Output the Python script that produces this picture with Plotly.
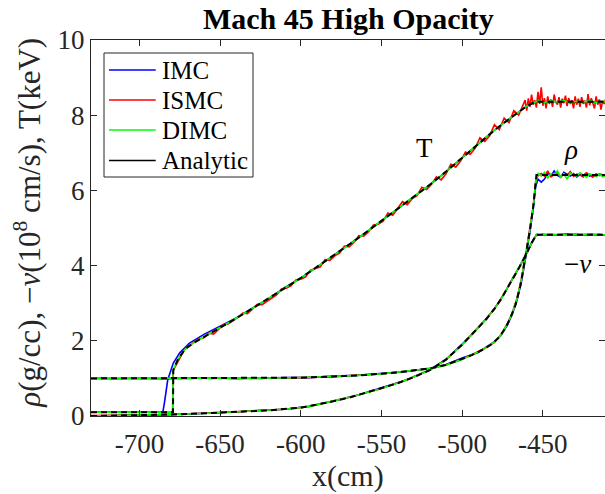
import plotly.graph_objects as go

FONT = "Liberation Serif"
AX = "#262626"

# ---------------- tick labels ----------------
x_tickvals = [-700, -650, -600, -550, -500, -450]
x_ticktext = ["-700", "-650", "-600", "-550", "-500", "-450"]
y_tickvals = [0, 2, 4, 6, 8, 10]
y_ticktext = ["0", "2", "4", "6", "8", "10"]

# ---------------- legend ----------------
legend_names = ["IMC", "ISMC", "DIMC", "Analytic"]
legend_colors = ["#0000ff", "#ff0000", "#00ff00", "#000000"]

# ---------------- Analytic ----------------
an_T_x = [-730, -679.2, -679.0, -676, -673, -670, -665, -660, -655, -650, -640, -630, -620, -610,
          -600, -590, -580, -570, -560, -550, -540, -530, -520, -510, -500, -490, -480, -470,
          -465, -460, -456, -453, -440, -420, -411]
an_T = [0.1, 0.1, 1.22, 1.52, 1.70, 1.84, 1.98, 2.10, 2.22, 2.35, 2.60, 2.86, 3.12, 3.40,
        3.67, 3.96, 4.25, 4.56, 4.87, 5.19, 5.51, 5.83, 6.15, 6.50, 6.87, 7.25, 7.60, 7.93,
        8.09, 8.24, 8.33, 8.36, 8.36, 8.36, 8.36]

an_rho_x = [-730, -700, -680, -650, -620, -600, -580, -560, -540, -530, -518, -510, -501, -494,
            -487, -482, -477, -473, -470, -467, -464, -461, -458, -456, -454.5, -454, -450, -411]
an_rho = [1.0, 1.0, 1.0, 1.005, 1.01, 1.02, 1.05, 1.09, 1.16, 1.21, 1.28, 1.36, 1.50, 1.62,
          1.77, 1.90, 2.10, 2.35, 2.62, 2.95, 3.45, 4.15, 4.95, 5.55, 6.10, 6.41, 6.41, 6.41]

an_v_x = [-730, -700, -680, -660, -640, -620, -600, -590, -580, -570, -560, -550, -540, -530,
          -520, -510, -500, -490, -485, -480, -476, -470, -465, -460, -457, -454, -450, -411]
an_v = [0.0, 0.02, 0.04, 0.07, 0.11, 0.15, 0.22, 0.30, 0.39, 0.49, 0.61, 0.73, 0.87, 1.03,
        1.22, 1.50, 1.90, 2.35, 2.58, 2.85, 3.10, 3.55, 3.92, 4.33, 4.60, 4.82, 4.82, 4.82]

# ---------------- IMC (blue) T ----------------
imc_T_x = [-730, -685.5, -684.5, -683.5, -682.5, -681, -679, -675, -669, -660, -650, -640, -630,
           -620, -610, -600, -590, -580, -570, -560, -550, -540, -530, -520, -510, -500, -490,
           -480, -470, -465, -460, -456, -453, -450, -445, -440, -435, -430, -425, -420, -415, -411]
imc_T = [0.1, 0.1, 0.35, 0.70, 0.95, 1.15, 1.41, 1.68, 1.94, 2.17, 2.38, 2.61, 2.87,
         3.12, 3.41, 3.67, 3.96, 4.26, 4.56, 4.87, 5.19, 5.51, 5.83, 6.15, 6.50, 6.87, 7.25,
         7.60, 7.93, 8.09, 8.24, 8.33, 8.38, 8.34, 8.37, 8.35, 8.38, 8.34, 8.37, 8.35, 8.37, 8.35]

# ---------------- ISMC (red) T ----------------
ismc_T_x = [-730, -679.4, -679.2,
            -678, -675, -672, -669, -666, -663, -660, -657, -654, -651, -648, -645, -642, -639,
            -636, -633, -630, -627, -624, -621, -618, -615, -612, -609, -606, -603, -600, -597,
            -594, -591, -588, -585, -582, -579, -576, -573, -570, -567, -564, -561, -558, -555,
            -552, -549, -546, -543, -540, -537, -534, -531, -528, -525, -522, -519, -516, -513,
            -510, -507, -504, -501, -498, -495, -492, -489, -486, -483, -480, -477, -474, -471,
            -468, -465, -462,
            -461, -460, -459, -458, -457, -456, -455, -454, -453, -452, -451, -450, -449, -448,
            -447, -446, -445, -444, -443, -442, -441, -440, -439, -438, -437, -436, -435, -434,
            -433, -432, -431, -430, -429, -428, -427, -426, -425, -424, -423, -422, -421, -420,
            -419, -418, -417, -416, -415, -414, -413, -412, -411]
ismc_T = [0.1, 0.1, 1.20,
          1.30, 1.55, 1.77, 1.86, 1.98, 2.05, 2.08, 2.20, 2.18, 2.30, 2.43, 2.45, 2.53, 2.62,
          2.74, 2.72, 2.84, 2.97, 2.96, 3.05, 3.14, 3.22, 3.38, 3.40, 3.47, 3.62, 3.64, 3.70,
          3.88, 3.92, 3.96, 4.16, 4.14, 4.26, 4.33, 4.52, 4.50, 4.62, 4.80, 4.78, 4.90, 5.08,
          5.10, 5.18, 5.40, 5.34, 5.52, 5.70, 5.62, 5.78, 5.86, 6.08, 6.02, 6.16, 6.36, 6.28,
          6.44, 6.70, 6.62, 6.78, 7.02, 6.96, 7.12, 7.40, 7.30, 7.45, 7.75, 7.62, 7.92, 7.80,
          8.12, 8.00, 8.30,
          8.40, 8.12, 8.45, 8.22, 8.55, 8.28, 8.40, 8.20, 8.62, 8.30, 8.74, 8.25, 8.45, 8.18,
          8.50, 8.30, 8.42, 8.22, 8.55, 8.35, 8.28, 8.48, 8.20, 8.44, 8.32, 8.52, 8.24, 8.46,
          8.30, 8.40, 8.18, 8.50, 8.28, 8.44, 8.22, 8.48, 8.30, 8.38, 8.20, 8.56, 8.26, 8.45,
          8.32, 8.18, 8.50, 8.28, 8.42, 8.15, 8.38, 8.30, 8.44]

# ---------------- DIMC (green) T ----------------
dimc_T_x = [-730, -679.4, -679.1, -676, -673, -670, -665, -660, -655, -650, -640, -630, -620,
            -610, -600, -590, -580, -570, -560, -550, -540, -530, -520, -510, -500, -490, -480,
            -470, -465, -460, -456, -453, -449, -445, -441, -437, -433, -429, -425, -421, -417,
            -413, -411]
dimc_T = [0.1, 0.1, 1.22, 1.52, 1.71, 1.85, 1.98, 2.10, 2.23, 2.35, 2.60, 2.86, 3.12,
          3.40, 3.67, 3.96, 4.25, 4.56, 4.87, 5.19, 5.51, 5.83, 6.15, 6.50, 6.87, 7.25, 7.60,
          7.93, 8.09, 8.24, 8.33, 8.38, 8.34, 8.38, 8.35, 8.39, 8.34, 8.37, 8.35, 8.38, 8.34,
          8.37, 8.35]

# ---------------- numerical rho (shared grid) ----------------
num_rho_x = [-730, -715, -700, -685, -670, -655, -640, -625, -610, -595, -580, -565, -550,
             -535, -520, -510, -500, -495, -490, -485, -480, -476, -472, -469, -466, -463,
             -460, -458, -456, -454.5, -453, -451, -449, -447, -445, -443, -441, -439, -437,
             -435, -433, -431, -429, -427, -425, -423, -421, -419, -417, -415, -413, -411]
imc_rho = [1.00, 0.99, 1.01, 0.99, 1.00, 1.01, 0.99, 1.01, 1.02, 1.02, 1.06, 1.08, 1.13,
           1.18, 1.27, 1.37, 1.54, 1.62, 1.69, 1.84, 1.98, 2.14, 2.42, 2.70, 3.08, 3.62,
           4.35, 4.90, 5.50, 6.10, 6.30, 6.22, 6.30, 6.45, 6.38, 6.52, 6.40, 6.35, 6.48,
           6.42, 6.38, 6.45, 6.36, 6.42, 6.40, 6.46, 6.38, 6.42, 6.37, 6.44, 6.40, 6.38]
ismc_rho = [1.01, 1.00, 0.99, 1.00, 1.01, 1.00, 1.01, 1.00, 1.02, 1.03, 1.04, 1.09, 1.12,
            1.19, 1.26, 1.36, 1.51, 1.61, 1.71, 1.82, 1.96, 2.16, 2.46, 2.74, 3.14, 3.70,
            4.45, 4.98, 5.58, 6.22, 6.40, 6.45, 6.38, 6.52, 6.36, 6.42, 6.48, 6.35, 6.44,
            6.40, 6.50, 6.37, 6.43, 6.41, 6.36, 6.47, 6.40, 6.35, 6.44, 6.39, 6.42, 6.37]
dimc_rho = [1.00, 1.00, 1.00, 1.00, 1.00, 1.00, 1.01, 1.01, 1.01, 1.03, 1.05, 1.08, 1.12,
            1.18, 1.26, 1.35, 1.50, 1.61, 1.70, 1.83, 1.97, 2.15, 2.45, 2.73, 3.12, 3.68,
            4.43, 4.96, 5.56, 6.20, 6.45, 6.38, 6.48, 6.33, 6.45, 6.40, 6.52, 6.36, 6.44,
            6.30, 6.46, 6.41, 6.38, 6.47, 6.42, 6.35, 6.44, 6.40, 6.38, 6.43, 6.36, 6.41]

# ---------------- numerical -v (shared grid) ----------------
num_v_x = [-730, -715, -700, -685, -670, -655, -640, -625, -610, -595, -580, -565, -550,
           -535, -520, -510, -500, -495, -490, -485, -480, -476, -472, -468, -464, -460,
           -457, -454, -450, -445, -440, -435, -430, -425, -420, -415, -411]
imc_v = [0.00, 0.01, 0.02, 0.04, 0.05, 0.08, 0.11, 0.14, 0.18, 0.26, 0.39, 0.55, 0.74,
         0.95, 1.23, 1.51, 1.91, 2.12, 2.36, 2.58, 2.86, 3.10, 3.41, 3.70, 4.01, 4.33,
         4.61, 4.81, 4.83, 4.81, 4.82, 4.84, 4.81, 4.82, 4.83, 4.81, 4.82]
ismc_v = [0.01, 0.01, 0.02, 0.03, 0.06, 0.08, 0.11, 0.15, 0.18, 0.25, 0.40, 0.55, 0.73,
          0.96, 1.22, 1.50, 1.90, 2.13, 2.35, 2.59, 2.85, 3.11, 3.40, 3.71, 4.00, 4.34,
          4.60, 4.83, 4.81, 4.83, 4.81, 4.82, 4.84, 4.81, 4.82, 4.83, 4.81]
dimc_v = [0.00, 0.01, 0.02, 0.035, 0.055, 0.08, 0.11, 0.14, 0.18, 0.25, 0.39, 0.55, 0.73,
          0.95, 1.22, 1.50, 1.90, 2.12, 2.35, 2.58, 2.85, 3.10, 3.40, 3.70, 4.00, 4.33,
          4.60, 4.82, 4.82, 4.83, 4.81, 4.82, 4.82, 4.83, 4.82, 4.81, 4.82]

# ---------------- figure ----------------
fig = go.Figure()

methods = [
    ("IMC", legend_colors[0], [(imc_T_x, imc_T), (num_rho_x, imc_rho), (num_v_x, imc_v)]),
    ("ISMC", legend_colors[1], [(ismc_T_x, ismc_T), (num_rho_x, ismc_rho), (num_v_x, ismc_v)]),
    ("DIMC", legend_colors[2], [(dimc_T_x, dimc_T), (num_rho_x, dimc_rho), (num_v_x, dimc_v)]),
]
for name, color, curves in methods:
    for xs, ys in curves:
        fig.add_trace(go.Scatter(
            x=xs, y=ys, mode="lines", name=name, showlegend=False,
            line=dict(color=color, width=1.6)))

for xs, ys in [(an_T_x, an_T), (an_rho_x, an_rho), (an_v_x, an_v)]:
    fig.add_trace(go.Scatter(
        x=xs, y=ys, mode="lines", name="Analytic", showlegend=False,
        line=dict(color="black", width=2, dash="6px,4px")))

# curve labels
labels = [("T", -523.5, 7.12), ("<i>ρ</i>", -432.5, 7.08), ("−<i>v</i>", -428.5, 4.05)]
for txt, lx, ly in labels:
    fig.add_annotation(x=lx, y=ly, text=txt, showarrow=False,
                       font=dict(family=FONT, size=27, color="black"))

# axis titles
fig.add_annotation(xref="paper", yref="paper", x=-0.1226, y=0.514,
                   text="<i>ρ</i>(g/cc), −<i>v</i>(10<sup>8</sup> cm/s), T(keV)",
                   textangle=-90, showarrow=False, xanchor="center", yanchor="middle",
                   font=dict(family=FONT, size=31, color=AX))
fig.add_annotation(xref="paper", yref="paper", x=0.5, y=-0.16,
                   text="x(cm)", showarrow=False, xanchor="center", yanchor="middle",
                   font=dict(family=FONT, size=30, color=AX))

# legend box (drawn in paper coordinates)
LX0, LX1, LY0, LY1 = 0.0253, 0.3152, 0.6356, 0.9654
fig.add_shape(type="rect", xref="paper", yref="paper", x0=LX0, x1=LX1, y0=LY0, y1=LY1,
              line=dict(color=AX, width=1), fillcolor="white", layer="above")
row_y = [0.9202, 0.8404, 0.7606, 0.6795]
for name, color, ry in zip(legend_names, legend_colors, row_y):
    fig.add_shape(type="line", xref="paper", yref="paper", x0=0.035, x1=0.1259, y0=ry, y1=ry,
                  line=dict(color=color, width=1.6), layer="above")
    fig.add_annotation(xref="paper", yref="paper", x=0.1342, y=ry, text=name,
                       showarrow=False, xanchor="left", yanchor="middle",
                       font=dict(family=FONT, size=25, color="black"))

fig.update_layout(
    width=605, height=494,
    margin=dict(l=91, r=0, t=40, b=78),
    paper_bgcolor="white", plot_bgcolor="white",
    font=dict(family=FONT, size=27, color=AX),
    title=dict(text="<b>Mach 45 High Opacity</b>", x=0.5759, xanchor="center",
               y=0.962, yanchor="middle", font=dict(family=FONT, size=30, color="black")),
    showlegend=False,
    xaxis=dict(range=[-730, -411.5], tickvals=x_tickvals, ticktext=x_ticktext,
               ticks="inside", ticklen=6, tickcolor=AX, showline=True, linecolor=AX,
               linewidth=1, mirror="ticks", showgrid=False, zeroline=False,
               ticklabelstandoff=4,
               tickfont=dict(family=FONT, size=27, color=AX)),
    yaxis=dict(range=[0, 10], tickvals=y_tickvals, ticktext=y_ticktext,
               ticks="inside", ticklen=6, tickcolor=AX, showline=True, linecolor=AX,
               linewidth=1, mirror="ticks", showgrid=False, zeroline=False,
               tickfont=dict(family=FONT, size=27, color=AX)),
)

fig.write_html("out.html")
